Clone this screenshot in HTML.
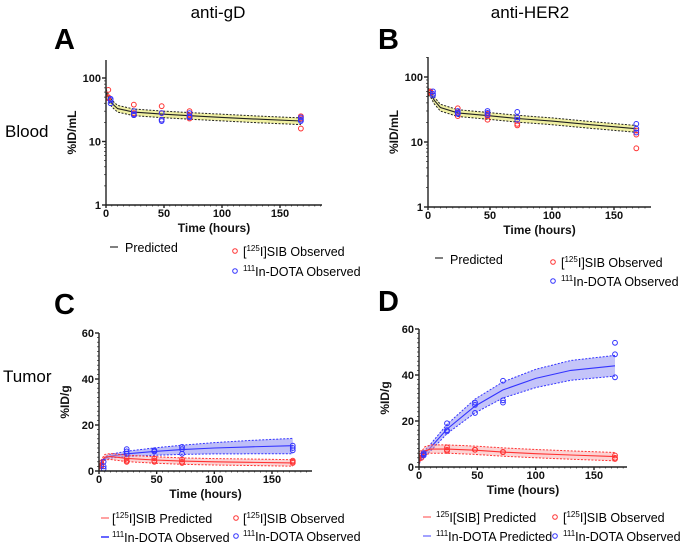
<!DOCTYPE html>
<html><head><meta charset="utf-8"><style>
html,body{margin:0;padding:0;background:#fff;}
svg{display:block;font-family:"Liberation Sans",Arial,sans-serif;}
</style></head><body>
<svg id="fig" width="685" height="545" viewBox="0 0 685 545" xmlns="http://www.w3.org/2000/svg">
<g>
<text x="218" y="18" font-size="17" text-anchor="middle">anti-gD</text>
<text x="530" y="18" font-size="17" text-anchor="middle">anti-HER2</text>
<text x="54" y="49" font-size="29" font-weight="bold">A</text>
<text x="378" y="49" font-size="29" font-weight="bold">B</text>
<text x="54" y="314" font-size="29" font-weight="bold">C</text>
<text x="378" y="311" font-size="29" font-weight="bold">D</text>
<text x="5" y="137" font-size="17">Blood</text>
<text x="3" y="382" font-size="17">Tumor</text>
</g>
<g id="panels"></g>
<g font-size="12.5">
<line x1="110" y1="247" x2="118" y2="247" stroke="#000"/>
<text x="125" y="252">Predicted</text>
<circle cx="235" cy="251" r="2.3" fill="none" stroke="#f33"/>
<text x="243" y="256">[<tspan font-size="8" dy="-5">125</tspan><tspan dy="5">I]SIB Observed</tspan></text>
<circle cx="235" cy="271" r="2.3" fill="none" stroke="#33f"/>
<text x="243" y="276"><tspan font-size="8" dy="-5">111</tspan><tspan dy="5">In-DOTA Observed</tspan></text>

<line x1="435" y1="258" x2="443" y2="258" stroke="#000"/>
<text x="450" y="264">Predicted</text>
<circle cx="553" cy="262" r="2.3" fill="none" stroke="#f33"/>
<text x="561" y="267">[<tspan font-size="8" dy="-5">125</tspan><tspan dy="5">I]SIB Observed</tspan></text>
<circle cx="553" cy="281" r="2.3" fill="none" stroke="#33f"/>
<text x="561" y="286"><tspan font-size="8" dy="-5">111</tspan><tspan dy="5">In-DOTA Observed</tspan></text>

<line x1="101" y1="518" x2="109" y2="518" stroke="#f44"/>
<text x="112" y="523">[<tspan font-size="8" dy="-5">125</tspan><tspan dy="5">I]SIB Predicted</tspan></text>
<line x1="101" y1="537" x2="109" y2="537" stroke="#66f" stroke-width="2"/>
<text x="112" y="542"><tspan font-size="8" dy="-5">111</tspan><tspan dy="5">In-DOTA Observed</tspan></text>
<circle cx="236" cy="518" r="2.3" fill="none" stroke="#f33"/>
<text x="243" y="523">[<tspan font-size="8" dy="-5">125</tspan><tspan dy="5">I]SIB Observed</tspan></text>
<circle cx="236" cy="536" r="2.3" fill="none" stroke="#33f"/>
<text x="243" y="541"><tspan font-size="8" dy="-5">111</tspan><tspan dy="5">In-DOTA Observed</tspan></text>

<line x1="423" y1="517" x2="431" y2="517" stroke="#f44"/>
<text x="436" y="522"><tspan font-size="8" dy="-5">125</tspan><tspan dy="5">I[SIB] Predicted</tspan></text>
<line x1="423" y1="536" x2="431" y2="536" stroke="#44f"/>
<text x="436" y="541"><tspan font-size="8" dy="-5">111</tspan><tspan dy="5">In-DOTA Predicted</tspan></text>
<circle cx="555" cy="517" r="2.3" fill="none" stroke="#f33"/>
<text x="563" y="522">[<tspan font-size="8" dy="-5">125</tspan><tspan dy="5">I]SIB Observed</tspan></text>
<circle cx="555" cy="536" r="2.3" fill="none" stroke="#33f"/>
<text x="563" y="541"><tspan font-size="8" dy="-5">111</tspan><tspan dy="5">In-DOTA Observed</tspan></text>
</g>
</svg>
<script>
const predTimes = [0, 2, 5, 10, 24, 48, 72, 100, 130, 168];
// Blood A
const aPred = [60, 50, 40, 33, 29, 27, 25.5, 24, 22.5, 21];
// Blood B
const bPred = [60, 56, 44, 34, 28, 25.5, 23, 21, 18.5, 16];
// Tumor C
const cSibPred = [1, 4, 6, 6.3, 5.5, 4.8, 4.3, 4, 3.8, 3.5];
const cSibBand = [0.5, 1, 1.2, 1.3, 1.4, 1.4, 1.4, 1.4, 1.4, 1.4];
const cInPred = [1, 3, 5.5, 6.5, 7.5, 8.5, 9.3, 10, 10.5, 11];
const cInBand = [0.5, 1, 1.2, 1.5, 2, 2.8, 3.5, 4.3, 5, 5.8];
// Tumor D
const dSibPred = [2, 5, 7, 7.8, 7.8, 7.3, 6.5, 5.8, 5.2, 4.5];
const dSibBand = [1, 1.5, 1.8, 1.8, 1.8, 1.8, 1.8, 1.8, 1.8, 1.8];
const dInPred = [2, 4, 6, 8.5, 16.5, 26.5, 33.5, 38.5, 42, 44];
const dInBand = [0.5, 1, 1.2, 1.5, 2, 3, 3.5, 4, 4.3, 4.5];
// Observations
const obsTimes = [2, 24, 48, 72, 168];
const obsTimesIn = [4, 24, 48, 72, 168];
const aSibObs = [[65,50,48],[38,28,26],[36,28,22],[30,26,23],[25,23,16]];
const aInObs = [[47,40,45],[30,27,26],[28,22,21],[28,25,24],[24,22,21]];
const bSibObs = [[60,58,57],[33,28,25],[27,25,22],[24,19,18],[15,13,8]];
const bInObs = [[60,55,52],[30,28,27],[30,28,26],[29,24,22],[19,16,14]];
const cSibObs = [[3.5,2.5,2],[5.5,4.5,4],[5.5,4.5,4],[5,4,3.5],[4.5,4,3.5]];
const cInObs = [[4,2,1],[9.5,8.5,7.5],[9,8.5,8.5],[10.5,9.5,7.5],[11,10,9]];
const dSibObs = [[6,5,4],[8.5,7.5,7],[7.5,7.5,7.5],[6.5,6.5,6.5],[5,4,3.5]];
const dInObs = [[6,5.5,5],[19,16,15.5],[28,27,23.5],[37.5,29,28],[54,49,39]];
const xTicks = [0, 50, 100, 150];
const logTicks = [1, 10, 100];
const linTicks = [0, 20, 40, 60];

const NS = 'http://www.w3.org/2000/svg';
const root = document.getElementById('panels');
function mk(tag, attrs, parent) {
  const e = document.createElementNS(NS, tag);
  for (const k in attrs) e.setAttribute(k, attrs[k]);
  (parent || root).appendChild(e);
  return e;
}

function panel(cfg) {
  const g = mk('g', {});
  
  
  const xs = t => cfg.x0 + (t / 150) * (cfg.x150 - cfg.x0);
  const ys = cfg.log
    ? v => cfg.y0 - Math.log10(v) * cfg.dec
    : v => cfg.y0 - v * cfg.per;
  const path = (vals) => predTimes.map((t, i) => (i ? 'L' : 'M') + xs(t).toFixed(1) + ',' + ys(vals[i]).toFixed(1)).join('');
  function band(pred, lo, hi, fill, stroke, nm) {
    const up = pred.map((v, i) => hi(v, i));
    const dn = pred.map((v, i) => lo(v, i));
    let d = path(up);
    for (let i = predTimes.length - 1; i >= 0; i--) d += 'L' + xs(predTimes[i]).toFixed(1) + ',' + ys(dn[i]).toFixed(1);
    const b = mk('path', { d: d + 'Z', fill: fill, 'fill-opacity': 0.45, stroke: 'none' }, g);
    
    
    const u = mk('path', { d: path(up), fill: 'none', stroke: stroke, 'stroke-dasharray': '2,1.5', 'stroke-width': 1 }, g);
    
    
    const l = mk('path', { d: path(dn), fill: 'none', stroke: stroke, 'stroke-dasharray': '2,1.5', 'stroke-width': 1 }, g);
    
    
    const c = mk('path', { d: path(pred), fill: 'none', stroke: stroke, 'stroke-width': 1.1 }, g);
    
    
  }
  cfg.bands.forEach(b => band(b.pred, b.lo, b.hi, b.fill, b.stroke, b.name));
  cfg.obs.forEach(o => {
    o.vals.forEach((arr, i) => arr.forEach(v => {
      const c = mk('circle', { cx: xs(o.times[i]), cy: ys(v), r: 2.4, fill: 'none', stroke: o.color, 'stroke-width': 1 }, g);
      
      
    }));
  });
  // axes
  const ax = mk('g', { stroke: '#222', 'stroke-width': 1.4 }, g);
  
  
  mk('line', { x1: cfg.x0, y1: cfg.yTop, x2: cfg.x0, y2: cfg.y0 }, ax);
  mk('line', { x1: cfg.x0, y1: cfg.y0, x2: cfg.xEnd, y2: cfg.y0 }, ax);
  for (let x = cfg.x0; x <= cfg.xEnd; x += (cfg.x150 - cfg.x0) / 30) mk('line', { x1: x, y1: cfg.y0, x2: x, y2: cfg.y0 + 1.5, 'stroke-width': 0.7 }, ax);
  xTicks.forEach(t => {
    mk('line', { x1: xs(t), y1: cfg.y0, x2: xs(t), y2: cfg.y0 + 3 }, ax);
    const tx = mk('text', { x: xs(t), y: cfg.y0 + 12, 'font-size': 11, 'font-weight': 'bold', 'text-anchor': 'middle', stroke: 'none', fill: '#111' }, g);
    
    
    tx.textContent = t;
  });
  if (cfg.log) {
    for (let dcd = 0; dcd < 3; dcd++) for (let k = 2; k <= 9; k++) {
      const y = ys(k * Math.pow(10, dcd));
      if (y > cfg.yTop) mk('line', { x1: cfg.x0 - 2, y1: y, x2: cfg.x0, y2: y, 'stroke-width': 0.7 }, ax);
    }
  } else {
    for (let v = 0; v <= 60; v += 2) mk('line', { x1: cfg.x0 - 2, y1: ys(v), x2: cfg.x0, y2: ys(v), 'stroke-width': 0.7 }, ax);
  }
  (cfg.log ? logTicks : linTicks).forEach(v => {
    mk('line', { x1: cfg.x0 - 4, y1: ys(v), x2: cfg.x0, y2: ys(v) }, ax);
    const tx = mk('text', { x: cfg.x0 - 5, y: ys(v) + 4, 'font-size': 11, 'font-weight': 'bold', 'text-anchor': 'end', fill: '#111' }, g);
    
    
    tx.textContent = v;
  });
  const xt = mk('text', { x: (cfg.x0 + cfg.xEnd) / 2, y: cfg.y0 + 27, 'font-size': 12, 'font-weight': 'bold', 'text-anchor': 'middle', fill: '#111' }, g);
  
  
  xt.textContent = 'Time (hours)';
  const ymid = (cfg.yTop + cfg.y0) / 2;
  const yt = mk('text', { x: cfg.x0 - 30, y: ymid, 'font-size': 12, 'font-weight': 'bold', 'text-anchor': 'middle', fill: '#111', transform: 'rotate(-90 ' + (cfg.x0 - 30) + ' ' + ymid + ')' }, g);
  
  
  yt.textContent = cfg.ytitle;
}

const bloodLo = (v) => v * 0.88, bloodHi = (v) => v * 1.12;
panel({ name: 'panel-a-blood-antigd', log: true, x0: 106, x150: 280, xEnd: 322, y0: 205, yTop: 60, dec: 63.5, ytitle: '%ID/mL',
  bands: [{ pred: aPred, lo: bloodLo, hi: bloodHi, fill: '#dede30', stroke: '#222', name: 'a-predicted' }],
  obs: [{ times: obsTimes, vals: aSibObs, color: '#f33', name: 'a-sib-obs' }, { times: obsTimesIn, vals: aInObs, color: '#33f', name: 'a-in-obs' }] });
panel({ name: 'panel-b-blood-antiher2', log: true, x0: 428, x150: 614, xEnd: 651, y0: 207, yTop: 57, dec: 65, ytitle: '%ID/mL',
  bands: [{ pred: bPred, lo: bloodLo, hi: bloodHi, fill: '#dede30', stroke: '#222', name: 'b-predicted' }],
  obs: [{ times: obsTimes, vals: bSibObs, color: '#f33', name: 'b-sib-obs' }, { times: obsTimesIn, vals: bInObs, color: '#33f', name: 'b-in-obs' }] });
panel({ name: 'panel-c-tumor-antigd', log: false, x0: 99, x150: 272, xEnd: 312, y0: 471, yTop: 333, per: 2.3, ytitle: '%ID/g',
  bands: [
    { pred: cInPred, lo: (v, i) => v - cInBand[i] * 0.6, hi: (v, i) => v + cInBand[i] * 0.55, fill: '#6f6ff0', stroke: '#33f', name: 'c-in-predicted' },
    { pred: cSibPred, lo: (v, i) => v - cSibBand[i], hi: (v, i) => v + cSibBand[i], fill: '#f8a0a0', stroke: '#f33', name: 'c-sib-predicted' }],
  obs: [{ times: obsTimes, vals: cSibObs, color: '#f33', name: 'c-sib-obs' }, { times: obsTimesIn, vals: cInObs, color: '#33f', name: 'c-in-obs' }] });
panel({ name: 'panel-d-tumor-antiher2', log: false, x0: 419, x150: 594, xEnd: 627, y0: 467, yTop: 329, per: 2.3, ytitle: '%ID/g',
  bands: [
    { pred: dInPred, lo: (v, i) => v - dInBand[i], hi: (v, i) => v + dInBand[i], fill: '#7c7cf2', stroke: '#33f', name: 'd-in-predicted' },
    { pred: dSibPred, lo: (v, i) => Math.max(0, v - dSibBand[i]), hi: (v, i) => v + dSibBand[i], fill: '#f8a0a0', stroke: '#f33', name: 'd-sib-predicted' }],
  obs: [{ times: obsTimes, vals: dSibObs, color: '#f33', name: 'd-sib-obs' }, { times: obsTimesIn, vals: dInObs, color: '#33f', name: 'd-in-obs' }] });
</script>
</body></html>
